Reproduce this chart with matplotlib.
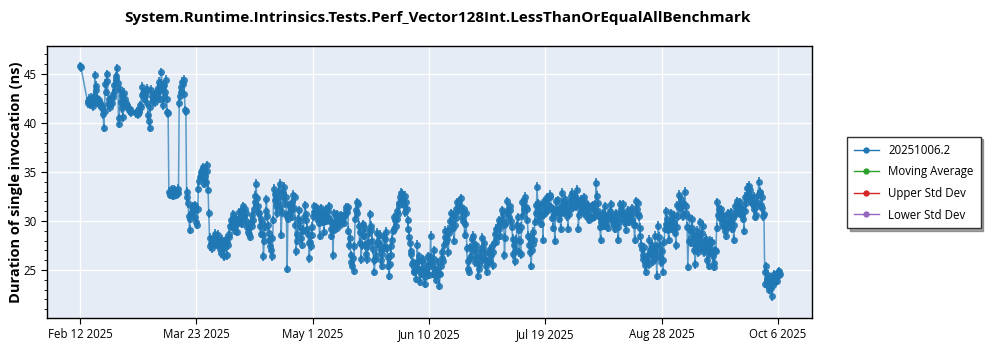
import matplotlib
matplotlib.use("Agg")
import matplotlib.pyplot as plt
import pandas as pd
from matplotlib.lines import Line2D
from matplotlib.ticker import MultipleLocator

TITLE = "System.Runtime.Intrinsics.Tests.Perf_Vector128Int.LessThanOrEqualAllBenchmark"
BUILD = "20251006.2"
SERIES_NAMES = [BUILD, "Moving Average", "Upper Std Dev", "Lower Std Dev"]
SERIES_COLORS = ["#1f77b4", "#2ca02c", "#d62728", "#9467bd"]

TICK_LABELS = ["Feb 12 2025", "Mar 23 2025", "May 1 2025", "Jun 10 2025",
               "Jul 19 2025", "Aug 28 2025", "Oct 6 2025"]

# Each run block: first sample time, the main measurements (one every 12 h)
# and the repeat measurements taken 6 h after each main one. Values in ns.
run_feb12 = ("2025-02-12 00:00", [45.8], [45.7])
run_feb14 = ("2025-02-14 12:00", [
    42.2, 42.5, 41.9, 42.3, 42.0, 44.9, 43.4, 42.1, 42.3, 41.8,
    41.5, 39.5, 44.0, 45.0, 41.9, 41.6, 42.4, 43.0, 43.9, 44.5,
    45.6, 39.9, 43.5, 42.9, 40.6, 43.1, 42.0, 41.8, 41.3, 41.2,
], [
    42.0, 42.3, 42.6, 41.7, 42.8, 43.8, 42.6, 41.9, 42.0, 41.6,
    40.9, 41.2, 43.2, 44.3, 42.4, 41.9, 42.0, 42.7, 43.4, 44.8,
    44.1, 40.5, 42.1, 41.5, 41.9, 42.4, 41.7, 41.5, 41.4, 41.1,
])
run_mar03 = ("2025-03-03 00:00", [
    41.0, 40.9, 41.3, 41.6, 43.7, 42.5, 42.8, 43.5, 40.8, 39.5,
    43.4, 42.2, 42.8, 42.6, 43.0, 44.2, 42.5, 45.2, 41.8, 43.9,
    44.4, 41.1, 33.0, 32.7, 33.2, 32.9, 33.1, 32.8, 33.3, 42.0,
    43.7, 44.2, 44.4, 41.3,
], [
    41.2, 41.1, 41.8, 42.9, 43.1, 42.9, 43.2, 42.0, 40.2, 41.6,
    42.8, 42.5, 42.1, 43.1, 43.6, 43.3, 44.0, 43.5, 42.6, 43.2,
    42.5, 41.0, 32.8, 33.1, 32.6, 33.2, 32.7, 33.0, 32.9, 42.8,
    43.2, 44.0, 43.0, 41.2,
])
run_mar20 = ("2025-03-20 00:00", [
    33.0, 31.8, 29.1, 30.8, 31.5, 31.1, 30.4, 29.6, 33.3, 34.5,
    34.7, 35.5, 33.8, 34.0, 35.7, 30.8, 27.4, 27.2, 27.7, 28.7,
    28.4, 28.1, 27.9, 26.7, 28.1, 26.4, 27.7, 26.5, 27.5, 28.7,
    30.1, 29.4, 30.4, 29.4, 28.9, 29.8, 29.9, 30.5, 31.5, 30.4,
    30.8, 29.4, 28.7, 28.4, 29.5, 30.1, 31.9, 33.8, 31.5, 30.8,
    28.7, 29.8, 26.4, 29.4, 32.2, 29.6, 28.1, 27.0, 26.4, 33.3,
    32.8, 30.8, 32.5, 33.8, 28.6, 32.5, 33.5, 32.5, 25.1, 31.6,
    31.5, 30.4, 32.7, 32.4, 26.9, 28.7, 31.1, 29.4, 27.6, 29.0,
    31.6, 30.1, 28.7, 26.2, 27.4, 29.4, 31.5, 30.8,
], [
    32.4, 30.5, 30.2, 31.4, 30.9, 31.6, 29.9, 31.2, 34.1, 35.0,
    35.2, 34.3, 34.6, 35.1, 33.2, 28.3, 27.8, 28.0, 28.3, 27.9,
    27.6, 28.6, 27.1, 27.5, 27.3, 27.2, 28.2, 27.9, 28.4, 29.5,
    29.6, 30.7, 29.0, 30.2, 30.0, 30.9, 31.0, 29.7, 30.6, 31.2,
    30.0, 28.9, 29.3, 29.9, 30.6, 31.2, 32.6, 32.3, 30.9, 29.5,
    30.2, 28.6, 28.0, 31.0, 30.5, 28.8, 27.4, 28.3, 30.1, 32.1,
    31.5, 31.9, 33.1, 31.4, 30.9, 33.0, 31.8, 30.6, 30.2, 30.8,
    31.0, 31.9, 31.3, 29.6, 28.0, 30.2, 30.0, 28.3, 29.1, 30.4,
    30.7, 29.2, 27.8, 27.9, 28.6, 30.5, 30.9, 31.4,
])
run_may03 = ("2025-05-03 00:00", [
    30.2, 31.0, 28.5, 31.3, 30.8, 28.9, 31.2, 30.4, 31.5, 30.0,
    28.5, 26.5, 30.8, 30.1, 29.3, 30.2, 30.0, 29.9, 30.3, 30.6,
    31.4, 31.4, 27.5, 26.5, 25.4, 24.9, 30.2, 31.9, 31.7, 27.8,
    26.1, 29.7, 28.5, 27.5, 26.1, 27.4, 30.7, 29.5, 27.1, 24.8,
    26.5, 28.8, 27.8, 27.1, 25.4, 27.2, 28.2, 28.9, 25.4, 24.4,
    26.5, 28.1, 29.2, 30.1, 31.0, 30.7, 31.8, 32.9, 32.8, 31.6,
    32.6, 31.2, 29.2, 27.8, 26.6, 25.8, 24.8, 24.1, 27.6, 26.4,
    23.8, 25.1, 26.1, 23.6, 25.4, 26.4, 24.5,
], [
    30.9, 29.8, 30.3, 30.5, 29.9, 30.6, 30.0, 31.0, 30.3, 29.2,
    29.8, 29.1, 29.6, 30.7, 30.4, 29.6, 30.6, 30.5, 29.8, 31.1,
    30.9, 29.0, 28.3, 25.8, 26.2, 27.4, 31.1, 30.8, 29.5, 28.9,
    27.5, 28.6, 29.3, 26.6, 27.9, 28.8, 29.1, 28.0, 26.0, 26.1,
    27.7, 27.9, 28.6, 26.0, 26.6, 28.4, 27.3, 27.2, 26.3, 25.6,
    27.4, 29.0, 30.4, 29.5, 30.2, 31.6, 32.4, 31.8, 32.0, 30.9,
    31.9, 30.1, 28.4, 26.9, 25.6, 24.9, 25.6, 25.0, 25.9, 25.1,
    24.6, 25.9, 24.9, 24.3, 24.7, 25.3, 25.9,
])
run_jun10 = ("2025-06-10 12:00", [
    28.5, 25.5, 27.0, 25.1, 24.0, 25.8, 23.4, 25.4, 26.8, 27.5,
    29.0, 28.2, 26.8, 30.0, 30.8, 29.3, 28.0, 30.3, 31.9, 32.0,
    31.5, 31.0, 30.0, 28.6, 30.8, 25.1, 24.8, 27.3, 28.2, 28.5,
    25.8, 27.5, 24.4, 25.1, 27.1, 28.3, 27.8, 26.1, 24.8, 25.8,
    27.1, 26.5, 25.5, 27.8, 29.2, 28.4, 29.2, 28.5, 30.2, 30.7,
    26.5, 29.8, 32.0, 30.4, 31.1, 29.4, 26.6, 25.9, 28.1, 30.4,
    26.8, 26.6, 31.9, 31.2, 32.5, 31.2, 28.5, 26.8, 25.4, 27.7,
    28.1, 31.6, 33.5, 30.1, 30.8, 30.5, 28.1, 32.0, 31.3, 32.4,
    31.5, 32.7, 30.3, 29.3, 28.0, 32.0, 31.0, 30.2, 29.2, 32.9,
    31.9, 32.2, 31.5, 29.2, 31.9, 32.6, 32.9, 31.6, 32.6, 33.2,
    29.2, 31.9, 32.2, 31.5, 30.8, 31.5, 30.4, 30.1, 31.3, 30.3,
    31.6, 30.5, 33.9, 31.8, 30.5, 28.1, 30.2, 29.5,
], [
    26.3, 24.6, 26.1, 24.4, 25.0, 24.7, 24.6, 26.2, 25.9, 28.4,
    27.9, 29.1, 28.8, 29.2, 29.7, 30.6, 29.6, 31.2, 31.0, 31.6,
    32.3, 30.4, 31.2, 29.7, 27.2, 25.9, 26.2, 26.4, 27.1, 27.6,
    26.9, 26.2, 25.5, 26.4, 26.0, 27.2, 26.7, 25.4, 25.9, 26.8,
    25.9, 27.4, 26.8, 28.7, 27.9, 29.5, 30.1, 29.8, 31.1, 29.6,
    28.3, 31.0, 30.9, 31.5, 30.0, 28.2, 27.5, 27.0, 29.6, 29.1,
    28.0, 29.4, 30.6, 32.0, 31.4, 30.1, 27.6, 28.3, 27.0, 28.9,
    29.9, 30.8, 31.8, 31.4, 29.7, 31.6, 30.7, 30.9, 32.2, 31.1,
    32.5, 31.4, 31.2, 30.6, 30.9, 31.1, 32.1, 31.3, 30.8, 31.7,
    30.9, 31.1, 30.5, 30.7, 31.2, 31.8, 31.4, 32.3, 31.5, 32.0,
    30.6, 31.0, 31.3, 32.4, 31.9, 30.7, 31.6, 31.2, 30.4, 31.5,
    31.1, 31.7, 32.6, 31.0, 29.4, 29.9, 30.8, 30.6,
])
run_aug08 = ("2025-08-08 12:00", [
    31.5, 29.6, 29.3, 30.7, 31.7, 30.2, 29.6, 29.2, 30.5, 28.1,
    31.7, 31.2, 31.7, 30.6, 29.1, 30.3, 30.6, 30.6, 30.1, 30.8,
    28.1, 32.0, 31.8, 30.5, 28.5, 27.1, 26.1, 25.5, 24.8, 26.5,
    28.1, 26.8, 26.5, 27.1, 28.5, 24.4, 29.5, 27.5, 25.8, 24.8,
], [
    30.4, 30.1, 30.5, 31.0, 30.6, 29.8, 30.3, 30.8, 29.4, 29.9,
    30.9, 30.2, 30.8, 29.8, 30.4, 31.1, 29.9, 30.2, 31.3, 29.6,
    29.6, 31.2, 30.7, 29.3, 27.6, 26.5, 27.3, 26.2, 26.0, 25.6,
    27.0, 27.6, 25.9, 26.2, 27.4, 26.8, 28.4, 26.3, 26.9, 26.0,
])
run_aug28 = ("2025-08-28 12:00", [
    27.9, 31.0, 30.2, 28.1, 29.8, 30.3, 29.5, 29.9, 27.5, 31.6,
    32.7, 31.3, 31.6, 30.5, 33.0, 30.8, 25.3, 30.4, 27.8, 30.2,
    27.0, 25.6, 29.0, 26.8, 29.9, 27.2, 29.5, 26.8, 28.2, 26.0,
    25.4, 28.0, 26.8, 26.4, 25.3, 26.9, 31.9, 31.2, 30.5, 29.8,
    29.5, 29.0, 28.5, 30.8, 30.6, 30.0, 29.2, 28.1, 31.5, 31.4,
    31.6, 30.8, 31.4, 30.2, 29.0, 32.5, 33.4, 32.8, 33.2, 32.6,
    31.7, 31.2, 30.6, 31.9, 34.0, 33.0, 32.4, 30.5,
], [
    29.2, 29.7, 29.1, 29.6, 30.8, 29.2, 30.6, 28.8, 29.4, 30.5,
    31.6, 32.2, 30.7, 31.7, 31.5, 29.4, 28.0, 29.1, 29.3, 28.6,
    28.4, 27.7, 27.6, 28.5, 28.1, 28.8, 27.4, 27.9, 27.1, 27.5,
    26.7, 27.1, 27.9, 25.7, 27.0, 29.3, 30.6, 30.3, 31.2, 30.6,
    30.4, 29.9, 29.7, 29.4, 29.8, 30.9, 30.3, 29.6, 30.7, 32.0,
    30.9, 31.9, 30.6, 31.1, 31.0, 31.8, 32.5, 33.6, 32.1, 31.8,
    32.5, 30.4, 31.5, 32.7, 32.9, 31.6, 31.3, 30.7,
])
run_oct01 = ("2025-10-01 12:00", [
    24.8, 25.4, 23.4, 23.0, 24.2, 22.3, 24.0, 23.8, 24.4, 24.8, 24.9,
], [
    23.6, 24.1, 24.5, 23.9, 23.2, 23.5, 24.6, 24.3, 23.9, 24.5, 24.6,
])

# typical half-width of the per-run error bars (ns)
err_ns = 0.45

runs = [run_feb12, run_feb14, run_mar03, run_mar20, run_may03,
        run_jun10, run_aug08, run_aug28, run_oct01]

times, values = [], []
for start, main, repeat in runs:
    t0 = pd.Timestamp(start)
    for i, (a, b) in enumerate(zip(main, repeat)):
        t = t0 + pd.Timedelta(hours=12 * i)
        times += [t, t + pd.Timedelta(hours=6)]
        values += [a, b]
errors = [err_ns] * len(values)

plt.rcParams["font.family"] = ["Open Sans", "DejaVu Sans"]

fig = plt.figure(figsize=(10, 3.5), dpi=100)
ax = fig.add_axes([0.047, 0.0914, 0.765, 0.7772])
ax.set_facecolor("#E5ECF6")

blue = SERIES_COLORS[0]
# connecting line a bit lighter than the markers and error bars
ax.plot(times, values, color=blue, lw=1.1, alpha=0.7, zorder=3)
ax.errorbar(times, values, yerr=errors, fmt="o", color=blue, alpha=0.9,
            ms=5.0, mew=0, elinewidth=1.3, capsize=3.0, capthick=1.3,
            ecolor=(0.12, 0.47, 0.71, 0.6), zorder=4)

# secondary statistics carry no samples for this build
for name, color in zip(SERIES_NAMES[1:], SERIES_COLORS[1:]):
    ax.plot([], [], color=color)

tick_start = pd.Timestamp("2025-02-12")
tick_step = pd.Timedelta(days=39, hours=8)
ticks = [tick_start + tick_step * i for i in range(len(TICK_LABELS))]
ax.set_xticks(ticks)
ax.set_xticklabels(TICK_LABELS)
ax.set_xlim(pd.Timestamp("2025-01-31 19:00"), pd.Timestamp("2025-10-17 12:00"))

ax.set_ylim(20.1, 47.86)
ax.yaxis.set_major_locator(MultipleLocator(5))
ax.yaxis.set_minor_locator(MultipleLocator(1))

ax.grid(True, which="major", color="white", linewidth=1.0)
ax.set_axisbelow(True)
for spine in ax.spines.values():
    spine.set_color("black")
    spine.set_linewidth(1.0)

ax.tick_params(axis="both", which="major", labelsize=8.3, length=4, color="black")
ax.tick_params(axis="y", which="minor", length=2.5)

ax.set_ylabel("Duration of single invocation (ns)", fontsize=10.5, fontweight="bold")
ax.yaxis.set_label_coords(-0.032, 0.5)
fig.text(0.437, 0.949, TITLE, fontsize=11, fontweight="bold",
         ha="center", va="center")

handles = [
    Line2D([0], [0], color=c, marker="o", ms=3.5, lw=1.0, label=n)
    for n, c in zip(SERIES_NAMES, SERIES_COLORS)
]
fig.legend(handles=handles, loc="upper left", bbox_to_anchor=(0.841, 0.626),
           fontsize=8.3, frameon=True, fancybox=False, shadow=True,
           edgecolor="#333333", facecolor="white", framealpha=1.0,
           handlelength=2.2, borderpad=0.6, labelspacing=0.75)

fig.savefig("out.png", dpi=100)
